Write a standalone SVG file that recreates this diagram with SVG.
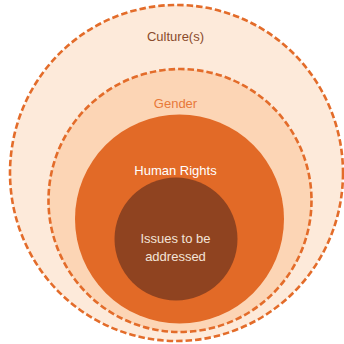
<svg xmlns="http://www.w3.org/2000/svg" width="344" height="344" viewBox="0 0 344 344">
  <style>
    text { font-family: "Liberation Sans", Arial, sans-serif; font-size: 13px; text-anchor: middle; }
    .ring { stroke: #E36C2A; stroke-width: 2.6; stroke-dasharray: 6.5 3; }
  </style>
  <rect width="344" height="344" fill="#FFFFFF"/>
  <!-- outermost layer -->
  <g id="culture">
    <ellipse class="ring" cx="176.5" cy="173" rx="166.5" ry="168" fill="#FDEADA"/>
    <text x="175.5" y="40.5" fill="#8A4A2C">Culture(s)</text>
  </g>
  <!-- second layer -->
  <g id="gender">
    <circle class="ring" cx="180" cy="200.5" r="131.5" fill="#FCD5B5"/>
    <text x="175.5" y="108" fill="#E8793A">Gender</text>
  </g>
  <!-- third layer -->
  <g id="human-rights">
    <circle cx="179.5" cy="219" r="104.5" fill="#E26A27"/>
    <text x="175.5" y="174.5" fill="#FFFFFF">Human Rights</text>
  </g>
  <!-- core -->
  <g id="issues">
    <circle cx="176" cy="239" r="61.5" fill="#8F4320"/>
    <text x="175.5" y="243" fill="#F3E3D8">Issues to be</text>
    <text x="175.5" y="260.5" fill="#F3E3D8">addressed</text>
  </g>
</svg>
